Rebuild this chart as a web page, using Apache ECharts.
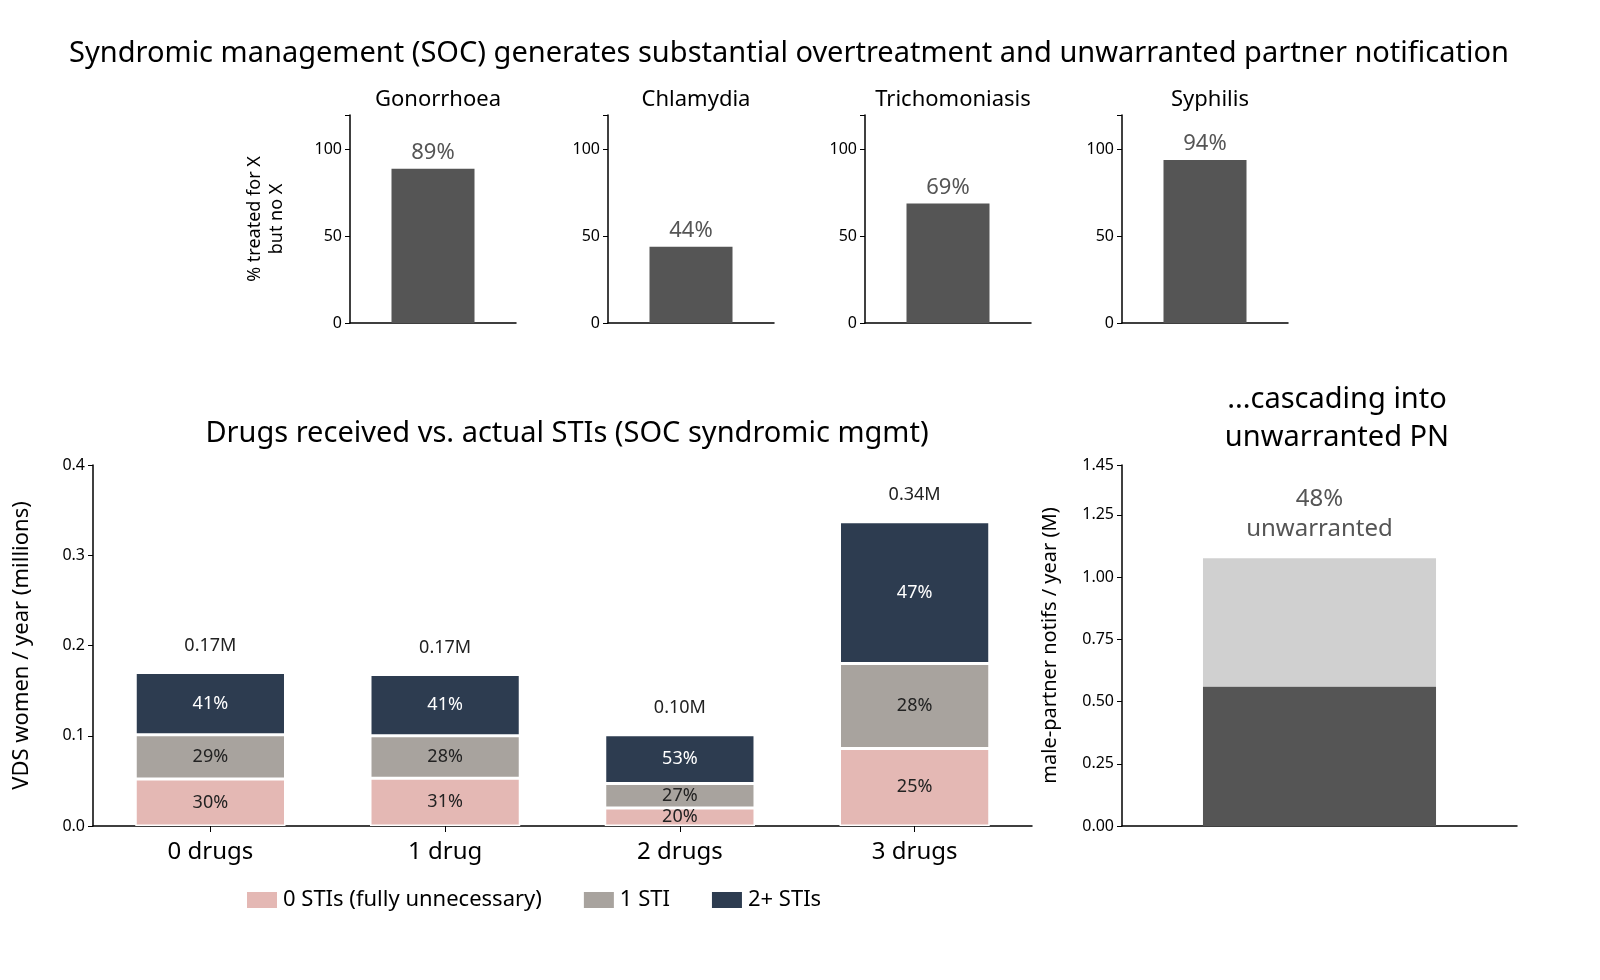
<!DOCTYPE html>
<html><head><meta charset="utf-8">
<script src="https://cdn.jsdelivr.net/npm/echarts@6/dist/echarts.min.js"></script>
<style>html,body{margin:0;background:#fff}#c{width:1600px;height:980px}</style>
</head><body><div id="c"></div>
<script>
var infections = ['Gonorrhoea', 'Chlamydia', 'Trichomoniasis', 'Syphilis'];
var overtreatPct = [89, 44, 69, 94];
var drugCats = ['0 drugs', '1 drug', '2 drugs', '3 drugs'];
var sti0 = [0.052, 0.053, 0.020, 0.086];
var sti1 = [0.049, 0.047, 0.027, 0.094];
var sti2 = [0.069, 0.068, 0.054, 0.157];
var pct0 = ['30%', '31%', '20%', '25%'];
var pct1 = ['29%', '28%', '27%', '28%'];
var pct2 = ['41%', '41%', '53%', '47%'];
var totals = ['0.17M', '0.17M', '0.10M', '0.34M'];
var pnWarranted = [0.56];
var pnUnwarranted = [0.515];

var F = 'Noto Sans';
var chart = echarts.init(document.getElementById('c'));
var axisLine = {lineStyle: {color: '#000', width: 1.5}};
var grids = [], xAxes = [], yAxes = [], series = [], titles = [];
var lefts = [350, 608, 865, 1122];
infections.forEach(function (name, i) {
  grids.push({left: lefts[i], width: 166, top: 115, height: 208});
  xAxes.push({type: 'category', gridIndex: i, data: [name], axisLine: axisLine,
    axisTick: {show: false}, axisLabel: {show: false}});
  yAxes.push({type: 'value', gridIndex: i, min: 0, max: 120, interval: 50, splitLine: {show: false},
    axisLine: Object.assign({show: true}, axisLine), axisTick: {show: true, length: 5},
    axisLabel: {color: '#000', fontSize: 16, fontFamily: F,
      formatter: function (v) { return v > 100 ? '' : v; }},
    name: i === 0 ? '% treated for X\nbut no X' : '', nameLocation: 'middle', nameGap: 62,
    nameTextStyle: {fontSize: 18, fontFamily: F, color: '#000', lineHeight: 22}});
  series.push({type: 'bar', xAxisIndex: i, yAxisIndex: i, data: [overtreatPct[i]], barWidth: '50%',
    itemStyle: {color: '#555555'},
    label: {show: true, position: 'top', formatter: '{c}%', color: '#555', fontSize: 22, fontFamily: F}});
  titles.push({text: name, left: lefts[i] + 83, top: 84, textAlign: 'center',
    textStyle: {fontSize: 22, fontWeight: 'normal', fontFamily: F, color: '#000'}});
});
// main stacked chart
grids.push({left: 93, width: 939, top: 465, height: 361});
xAxes.push({type: 'category', gridIndex: 4, data: drugCats, axisLine: axisLine,
  axisTick: {show: true, alignWithLabel: true, length: 6},
  axisLabel: {color: '#000', fontSize: 24, fontFamily: F, margin: 14}});
yAxes.push({type: 'value', gridIndex: 4, min: 0, max: 0.4, interval: 0.1, splitLine: {show: false},
  axisLine: Object.assign({show: true}, axisLine), axisTick: {show: true, length: 5},
  axisLabel: {color: '#000', fontSize: 16, fontFamily: F, formatter: function (v) { return v.toFixed(1); }},
  name: 'VDS women / year (millions)', nameLocation: 'middle', nameGap: 60,
  nameTextStyle: {fontSize: 22, fontFamily: F, color: '#000'}});
function seg(name, data, labels, color, txt, isTop) {
  return {type: 'bar', name: name, stack: 's', xAxisIndex: 4, yAxisIndex: 4, data: data, barWidth: '64%',
    itemStyle: {color: color, borderColor: '#fff', borderWidth: 1.5},
    label: {show: true, position: 'inside', color: txt, fontSize: 18, fontFamily: F,
      formatter: function (p) { return labels[p.dataIndex]; }}};
}
series.push(seg('0 STIs (fully unnecessary)', sti0, pct0, '#e4b8b4', '#222'));
series.push(seg('1 STI', sti1, pct1, '#a8a39e', '#222'));
series.push(seg('2+ STIs', sti2, pct2, '#2d3c50', '#fff'));
series.push({type: 'bar', stack: 's', xAxisIndex: 4, yAxisIndex: 4, data: [0, 0, 0, 0], barWidth: '64%',
  label: {show: true, position: 'top', distance: 18, color: '#222', fontSize: 18, fontFamily: F,
    formatter: function (p) { return totals[p.dataIndex]; }}, silent: true});
// PN chart
grids.push({left: 1122, width: 395, top: 465, height: 361});
xAxes.push({type: 'category', gridIndex: 5, data: ['PN'], axisLine: axisLine,
  axisTick: {show: false}, axisLabel: {show: false}});
yAxes.push({type: 'value', gridIndex: 5, min: 0, max: 1.45, interval: 0.25, splitLine: {show: false},
  axisLine: Object.assign({show: true}, axisLine), axisTick: {show: true, length: 5},
  axisLabel: {color: '#000', fontSize: 16, fontFamily: F, formatter: function (v) { return v.toFixed(2); }},
  name: 'male-partner notifs / year (M)', nameLocation: 'middle', nameGap: 62,
  nameTextStyle: {fontSize: 20, fontFamily: F, color: '#000'}});
series.push({type: 'bar', stack: 'p', xAxisIndex: 5, yAxisIndex: 5, data: pnWarranted, barWidth: '59%',
  itemStyle: {color: '#555555'}});
series.push({type: 'bar', stack: 'p', xAxisIndex: 5, yAxisIndex: 5, data: pnUnwarranted, barWidth: '59%',
  itemStyle: {color: '#d0d0d0'},
  label: {show: true, position: 'top', distance: 14, formatter: '48%\nunwarranted', color: '#555',
    fontSize: 24, fontFamily: F, lineHeight: 30}});
titles.push({text: 'Syndromic management (SOC) generates substantial overtreatment and unwarranted partner notification',
  left: 784, top: 34, textAlign: 'center', textStyle: {fontSize: 29, fontWeight: 'normal', fontFamily: F, color: '#000'}});
titles.push({text: 'Drugs received vs. actual STIs (SOC syndromic mgmt)', left: 562, top: 414, textAlign: 'center',
  textStyle: {fontSize: 29, fontWeight: 'normal', fontFamily: F, color: '#000'}});
titles.push({text: '...cascading into\nunwarranted PN', left: 1332, top: 376, textAlign: 'center',
  textStyle: {fontSize: 29, fontWeight: 'normal', fontFamily: F, color: '#000', lineHeight: 38}});
chart.setOption({
  animation: false,
  title: titles,
  legend: {data: ['0 STIs (fully unnecessary)', '1 STI', '2+ STIs'], left: 240, top: 884, itemGap: 40,
    itemWidth: 32, itemHeight: 18, icon: 'rect',
    textStyle: {fontSize: 22, fontFamily: F, color: '#000'}},
  grid: grids, xAxis: xAxes, yAxis: yAxes, series: series
});
</script></body></html>
